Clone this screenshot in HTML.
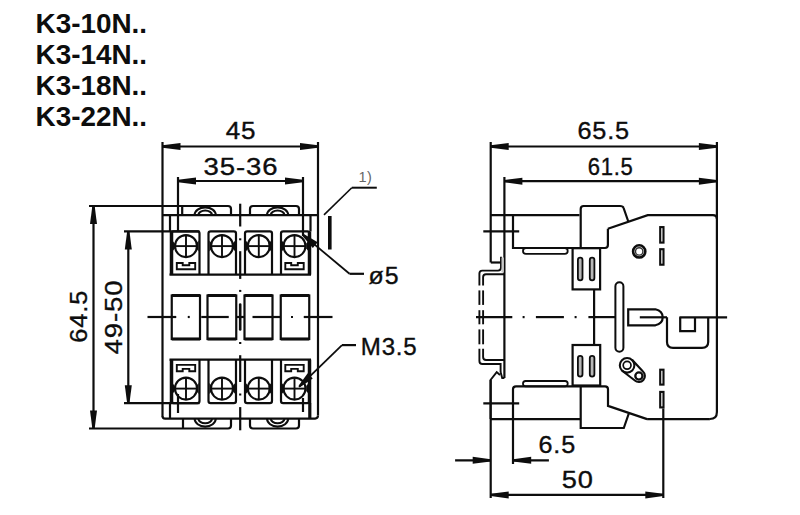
<!DOCTYPE html>
<html><head><meta charset="utf-8"><style>
html,body{margin:0;padding:0;background:#fff;}
body{width:800px;height:515px;overflow:hidden;}
svg{display:block;font-family:"Liberation Sans",sans-serif;}
</style></head><body>
<svg width="800" height="515" viewBox="0 0 800 515">
<text x="0" y="0" font-size="27.90" letter-spacing="0.00" font-weight="bold" fill="#0d0d0d"  transform="translate(35.500 32.900) scale(1.0000 1)">K3-10N..</text>
<text x="0" y="0" font-size="27.90" letter-spacing="0.00" font-weight="bold" fill="#0d0d0d"  transform="translate(35.500 63.850) scale(1.0000 1)">K3-14N..</text>
<text x="0" y="0" font-size="27.90" letter-spacing="0.00" font-weight="bold" fill="#0d0d0d"  transform="translate(35.500 94.800) scale(1.0000 1)">K3-18N..</text>
<text x="0" y="0" font-size="27.90" letter-spacing="0.00" font-weight="bold" fill="#0d0d0d"  transform="translate(35.500 125.750) scale(1.0000 1)">K3-22N..</text>
<text x="0" y="0" font-size="24.00" letter-spacing="0.80" font-weight="normal" fill="#0d0d0d" stroke="#0d0d0d" stroke-width="0.35" transform="translate(225.700 139.400) scale(1.0854 1)">45</text>
<text x="0" y="0" font-size="24.00" letter-spacing="0.80" font-weight="normal" fill="#0d0d0d" stroke="#0d0d0d" stroke-width="0.35" transform="translate(203.500 174.700) scale(1.1458 1)">35-36</text>
<text x="0" y="0" font-size="24.30" letter-spacing="0.80" font-weight="normal" fill="#0d0d0d" stroke="#0d0d0d" stroke-width="0.35" transform="translate(87.000 342.700) rotate(-90) scale(1.0491 1)">64.5</text>
<text x="0" y="0" font-size="24.30" letter-spacing="0.80" font-weight="normal" fill="#0d0d0d" stroke="#0d0d0d" stroke-width="0.35" transform="translate(122.200 354.500) rotate(-90) scale(1.1327 1)">49-50</text>
<text x="0" y="0" font-size="24.00" letter-spacing="0.80" font-weight="normal" fill="#0d0d0d" stroke="#0d0d0d" stroke-width="0.35" transform="translate(368.600 284.100) scale(1.0373 1)">ø5</text>
<text x="0" y="0" font-size="24.00" letter-spacing="0.80" font-weight="normal" fill="#0d0d0d" stroke="#0d0d0d" stroke-width="0.35" transform="translate(360.800 354.900) scale(1.0035 1)">M3.5</text>
<text x="0" y="0" font-size="14.50" letter-spacing="0.50" font-weight="normal" fill="#666"  transform="translate(358.500 182.200) scale(1.0000 1)">1)</text>
<text x="0" y="0" font-size="24.00" letter-spacing="0.80" font-weight="normal" fill="#0d0d0d" stroke="#0d0d0d" stroke-width="0.35" transform="translate(577.400 139.400) scale(1.0538 1)">65.5</text>
<text x="0" y="0" font-size="24.00" letter-spacing="0.80" font-weight="normal" fill="#0d0d0d" stroke="#0d0d0d" stroke-width="0.35" transform="translate(587.700 174.700) scale(0.9183 1)">61.5</text>
<text x="0" y="0" font-size="24.00" letter-spacing="0.80" font-weight="normal" fill="#0d0d0d" stroke="#0d0d0d" stroke-width="0.35" transform="translate(538.500 452.600) scale(1.0498 1)">6.5</text>
<text x="0" y="0" font-size="24.00" letter-spacing="0.80" font-weight="normal" fill="#0d0d0d" stroke="#0d0d0d" stroke-width="0.35" transform="translate(561.800 487.600) scale(1.1326 1)">50</text>
<line x1="162.5" y1="142" x2="162.5" y2="416.4" stroke="#0d0d0d" stroke-width="2.2" stroke-linecap="butt"/>
<line x1="318" y1="142" x2="318" y2="415.6" stroke="#0d0d0d" stroke-width="2.2" stroke-linecap="butt"/>
<path d="M162.5,416 Q162.5,418.6 165.1,418.6" stroke="#0d0d0d" stroke-width="2.2" fill="none" stroke-linejoin="miter"/>
<path d="M318,415.6 Q318,418.6 315,418.6" stroke="#0d0d0d" stroke-width="2.2" fill="none" stroke-linejoin="miter"/>
<line x1="162.5" y1="146.5" x2="318" y2="146.5" stroke="#0d0d0d" stroke-width="2.2" stroke-linecap="butt"/>
<path d="M162.50,147.65 L180.50,150.00 L180.50,143.00 L162.50,145.35 Z" fill="#0d0d0d" stroke="none"/>
<path d="M318.00,145.35 L300.00,143.00 L300.00,150.00 L318.00,147.65 Z" fill="#0d0d0d" stroke="none"/>
<line x1="178" y1="177" x2="178" y2="232" stroke="#0d0d0d" stroke-width="2.2" stroke-linecap="butt"/>
<line x1="303" y1="177" x2="303" y2="236" stroke="#0d0d0d" stroke-width="2.2" stroke-linecap="butt"/>
<line x1="178" y1="394" x2="178" y2="413" stroke="#0d0d0d" stroke-width="2.2" stroke-linecap="butt"/>
<line x1="303" y1="398" x2="303" y2="412" stroke="#0d0d0d" stroke-width="2.2" stroke-linecap="butt"/>
<line x1="178" y1="181" x2="303" y2="181" stroke="#0d0d0d" stroke-width="2.2" stroke-linecap="butt"/>
<path d="M178.00,182.15 L196.00,184.50 L196.00,177.50 L178.00,179.85 Z" fill="#0d0d0d" stroke="none"/>
<path d="M303.00,179.85 L285.00,177.50 L285.00,184.50 L303.00,182.15 Z" fill="#0d0d0d" stroke="none"/>
<line x1="89" y1="206" x2="228" y2="206" stroke="#0d0d0d" stroke-width="2.2" stroke-linecap="butt"/>
<line x1="89" y1="428.5" x2="228" y2="428.5" stroke="#0d0d0d" stroke-width="2.2" stroke-linecap="butt"/>
<line x1="93.5" y1="206" x2="93.5" y2="428.5" stroke="#0d0d0d" stroke-width="2.2" stroke-linecap="butt"/>
<path d="M92.35,206.00 L90.00,224.00 L97.00,224.00 L94.65,206.00 Z" fill="#0d0d0d" stroke="none"/>
<path d="M94.65,428.50 L97.00,410.50 L90.00,410.50 L92.35,428.50 Z" fill="#0d0d0d" stroke="none"/>
<line x1="124" y1="231.4" x2="199.5" y2="231.4" stroke="#0d0d0d" stroke-width="2.2" stroke-linecap="butt"/>
<line x1="124" y1="403.2" x2="199.5" y2="403.2" stroke="#0d0d0d" stroke-width="2.2" stroke-linecap="butt"/>
<line x1="128.3" y1="231.4" x2="128.3" y2="403.2" stroke="#0d0d0d" stroke-width="2.2" stroke-linecap="butt"/>
<path d="M127.15,231.40 L124.80,249.40 L131.80,249.40 L129.45,231.40 Z" fill="#0d0d0d" stroke="none"/>
<path d="M129.45,403.20 L131.80,385.20 L124.80,385.20 L127.15,403.20 Z" fill="#0d0d0d" stroke="none"/>
<line x1="162.5" y1="215.2" x2="318" y2="215.2" stroke="#0d0d0d" stroke-width="2.2" stroke-linecap="butt"/>
<line x1="165.0" y1="418.6" x2="315.1" y2="418.6" stroke="#0d0d0d" stroke-width="2.2" stroke-linecap="butt"/>
<path d="M182.2,215.2 V206 M228,206 Q231,206 231,209 V215.2" stroke="#0d0d0d" stroke-width="2.2" fill="none" stroke-linejoin="miter"/>
<path d="M250,215.2 V209 Q250,206 253,206 H296 Q299,206 299,209 V215.2" stroke="#0d0d0d" stroke-width="2.2" fill="none" stroke-linejoin="miter"/>
<path d="M194.6,215.2 A10.6,7.8 0 0 1 215.79999999999998,215.2" stroke="#0d0d0d" stroke-width="2.1" fill="none" stroke-linejoin="miter"/>
<path d="M198.29999999999998,215.2 A6.9,4.6 0 0 1 212.1,215.2" stroke="#0d0d0d" stroke-width="2.0" fill="none" stroke-linejoin="miter"/>
<path d="M267.0,215.2 A10.6,7.8 0 0 1 288.20000000000005,215.2" stroke="#0d0d0d" stroke-width="2.1" fill="none" stroke-linejoin="miter"/>
<path d="M270.70000000000005,215.2 A6.9,4.6 0 0 1 284.5,215.2" stroke="#0d0d0d" stroke-width="2.0" fill="none" stroke-linejoin="miter"/>
<path d="M183,418.6 V428.5 M228,428.5 Q231,428.5 231,425.5 V418.6" stroke="#0d0d0d" stroke-width="2.2" fill="none" stroke-linejoin="miter"/>
<path d="M250,418.6 V425.5 Q250,428.5 253,428.5 H296 Q299,428.5 299,425.5 V418.6" stroke="#0d0d0d" stroke-width="2.2" fill="none" stroke-linejoin="miter"/>
<path d="M194.6,418.6 A10.6,8.0 0 0 0 215.79999999999998,418.6" stroke="#0d0d0d" stroke-width="2.1" fill="none" stroke-linejoin="miter"/>
<path d="M198.29999999999998,418.6 A6.9,4.6 0 0 0 212.1,418.6" stroke="#0d0d0d" stroke-width="2.0" fill="none" stroke-linejoin="miter"/>
<path d="M267.0,418.6 A10.6,8.0 0 0 0 288.20000000000005,418.6" stroke="#0d0d0d" stroke-width="2.1" fill="none" stroke-linejoin="miter"/>
<path d="M270.70000000000005,418.6 A6.9,4.6 0 0 0 284.5,418.6" stroke="#0d0d0d" stroke-width="2.0" fill="none" stroke-linejoin="miter"/>
<line x1="170" y1="215.2" x2="170" y2="231.4" stroke="#0d0d0d" stroke-width="2.2" stroke-linecap="butt"/>
<line x1="170" y1="403" x2="170" y2="418.6" stroke="#0d0d0d" stroke-width="2.2" stroke-linecap="butt"/>
<line x1="310.5" y1="215.2" x2="310.5" y2="231.4" stroke="#0d0d0d" stroke-width="2.2" stroke-linecap="butt"/>
<line x1="309.8" y1="403" x2="309.8" y2="418.6" stroke="#0d0d0d" stroke-width="3.2" stroke-linecap="butt"/>
<line x1="169.5" y1="274.6" x2="311" y2="274.6" stroke="#0d0d0d" stroke-width="2.2" stroke-linecap="butt"/>
<path d="M171.5,274.6 V233.6 Q171.5,231.4 173.7,231.4 H197.3 Q199.5,231.4 199.5,233.6 V274.6" stroke="#0d0d0d" stroke-width="2.2" fill="none" stroke-linejoin="miter"/>
<path d="M208.5,274.6 V233.6 Q208.5,231.4 210.7,231.4 H233.8 Q236,231.4 236,233.6 V274.6" stroke="#0d0d0d" stroke-width="2.2" fill="none" stroke-linejoin="miter"/>
<path d="M245,274.6 V233.6 Q245,231.4 247.2,231.4 H269.8 Q272,231.4 272,233.6 V274.6" stroke="#0d0d0d" stroke-width="2.2" fill="none" stroke-linejoin="miter"/>
<path d="M281,274.6 V233.6 Q281,231.4 283.2,231.4 H307.3 Q309.5,231.4 309.5,233.6 V274.6" stroke="#0d0d0d" stroke-width="2.2" fill="none" stroke-linejoin="miter"/>
<path d="M171.5,231.4 V274.6" stroke="#0d0d0d" stroke-width="3.5" fill="none" stroke-linejoin="miter"/>
<path d="M309.5,231.4 V274.6" stroke="#0d0d0d" stroke-width="3.5" fill="none" stroke-linejoin="miter"/>
<line x1="169.5" y1="359.6" x2="311" y2="359.6" stroke="#0d0d0d" stroke-width="2.2" stroke-linecap="butt"/>
<path d="M171.5,359.6 V401 Q171.5,403.2 173.7,403.2 H197.3 Q199.5,403.2 199.5,401 V359.6" stroke="#0d0d0d" stroke-width="2.2" fill="none" stroke-linejoin="miter"/>
<path d="M208.5,359.6 V401 Q208.5,403.2 210.7,403.2 H233.8 Q236,403.2 236,401 V359.6" stroke="#0d0d0d" stroke-width="2.2" fill="none" stroke-linejoin="miter"/>
<path d="M245,359.6 V401 Q245,403.2 247.2,403.2 H269.8 Q272,403.2 272,401 V359.6" stroke="#0d0d0d" stroke-width="2.2" fill="none" stroke-linejoin="miter"/>
<path d="M281,359.6 V401 Q281,403.2 283.2,403.2 H307.3 Q309.5,403.2 309.5,401 V359.6" stroke="#0d0d0d" stroke-width="2.2" fill="none" stroke-linejoin="miter"/>
<path d="M171.5,359.6 V403.2" stroke="#0d0d0d" stroke-width="3.5" fill="none" stroke-linejoin="miter"/>
<path d="M309.5,359.6 V403.2" stroke="#0d0d0d" stroke-width="3.5" fill="none" stroke-linejoin="miter"/>
<path d="M172.3,240.6 L174.8,243.6 L174.8,248.6 L172.3,251.6 Z" fill="#0d0d0d"/>
<path d="M198.7,240.6 L196.2,243.6 L196.2,248.6 L198.7,251.6 Z" fill="#0d0d0d"/>
<path d="M172.3,383.1 L174.8,386.1 L174.8,391.1 L172.3,394.1 Z" fill="#0d0d0d"/>
<path d="M198.7,383.1 L196.2,386.1 L196.2,391.1 L198.7,394.1 Z" fill="#0d0d0d"/>
<path d="M209.3,240.6 L211.8,243.6 L211.8,248.6 L209.3,251.6 Z" fill="#0d0d0d"/>
<path d="M235.2,240.6 L232.7,243.6 L232.7,248.6 L235.2,251.6 Z" fill="#0d0d0d"/>
<path d="M209.3,383.1 L211.8,386.1 L211.8,391.1 L209.3,394.1 Z" fill="#0d0d0d"/>
<path d="M235.2,383.1 L232.7,386.1 L232.7,391.1 L235.2,394.1 Z" fill="#0d0d0d"/>
<path d="M245.8,240.6 L248.3,243.6 L248.3,248.6 L245.8,251.6 Z" fill="#0d0d0d"/>
<path d="M271.2,240.6 L268.7,243.6 L268.7,248.6 L271.2,251.6 Z" fill="#0d0d0d"/>
<path d="M245.8,383.1 L248.3,386.1 L248.3,391.1 L245.8,394.1 Z" fill="#0d0d0d"/>
<path d="M271.2,383.1 L268.7,386.1 L268.7,391.1 L271.2,394.1 Z" fill="#0d0d0d"/>
<path d="M281.8,240.6 L284.3,243.6 L284.3,248.6 L281.8,251.6 Z" fill="#0d0d0d"/>
<path d="M308.7,240.6 L306.2,243.6 L306.2,248.6 L308.7,251.6 Z" fill="#0d0d0d"/>
<path d="M281.8,383.1 L284.3,386.1 L284.3,391.1 L281.8,394.1 Z" fill="#0d0d0d"/>
<path d="M308.7,383.1 L306.2,386.1 L306.2,391.1 L308.7,394.1 Z" fill="#0d0d0d"/>
<circle cx="186" cy="246.1" r="11" stroke="#0d0d0d" stroke-width="2.1" fill="none"/>
<line x1="175.5" y1="246.1" x2="196.5" y2="246.1" stroke="#0d0d0d" stroke-width="1.9" stroke-linecap="butt"/>
<line x1="186" y1="235.6" x2="186" y2="256.6" stroke="#0d0d0d" stroke-width="1.9" stroke-linecap="butt"/>
<circle cx="186" cy="388.6" r="11" stroke="#0d0d0d" stroke-width="2.1" fill="none"/>
<line x1="175.5" y1="388.6" x2="196.5" y2="388.6" stroke="#0d0d0d" stroke-width="1.9" stroke-linecap="butt"/>
<line x1="186" y1="378.1" x2="186" y2="399.1" stroke="#0d0d0d" stroke-width="1.9" stroke-linecap="butt"/>
<circle cx="222" cy="246.1" r="11" stroke="#0d0d0d" stroke-width="2.1" fill="none"/>
<line x1="211.5" y1="246.1" x2="232.5" y2="246.1" stroke="#0d0d0d" stroke-width="1.9" stroke-linecap="butt"/>
<line x1="222" y1="235.6" x2="222" y2="256.6" stroke="#0d0d0d" stroke-width="1.9" stroke-linecap="butt"/>
<circle cx="222" cy="388.6" r="11" stroke="#0d0d0d" stroke-width="2.1" fill="none"/>
<line x1="211.5" y1="388.6" x2="232.5" y2="388.6" stroke="#0d0d0d" stroke-width="1.9" stroke-linecap="butt"/>
<line x1="222" y1="378.1" x2="222" y2="399.1" stroke="#0d0d0d" stroke-width="1.9" stroke-linecap="butt"/>
<circle cx="258.8" cy="246.1" r="11" stroke="#0d0d0d" stroke-width="2.1" fill="none"/>
<line x1="248.3" y1="246.1" x2="269.3" y2="246.1" stroke="#0d0d0d" stroke-width="1.9" stroke-linecap="butt"/>
<line x1="258.8" y1="235.6" x2="258.8" y2="256.6" stroke="#0d0d0d" stroke-width="1.9" stroke-linecap="butt"/>
<circle cx="258.8" cy="388.6" r="11" stroke="#0d0d0d" stroke-width="2.1" fill="none"/>
<line x1="248.3" y1="388.6" x2="269.3" y2="388.6" stroke="#0d0d0d" stroke-width="1.9" stroke-linecap="butt"/>
<line x1="258.8" y1="378.1" x2="258.8" y2="399.1" stroke="#0d0d0d" stroke-width="1.9" stroke-linecap="butt"/>
<circle cx="294.5" cy="246.1" r="11" stroke="#0d0d0d" stroke-width="2.1" fill="none"/>
<line x1="284.0" y1="246.1" x2="305.0" y2="246.1" stroke="#0d0d0d" stroke-width="1.9" stroke-linecap="butt"/>
<line x1="294.5" y1="235.6" x2="294.5" y2="256.6" stroke="#0d0d0d" stroke-width="1.9" stroke-linecap="butt"/>
<circle cx="294.5" cy="388.6" r="11" stroke="#0d0d0d" stroke-width="2.1" fill="none"/>
<line x1="284.0" y1="388.6" x2="305.0" y2="388.6" stroke="#0d0d0d" stroke-width="1.9" stroke-linecap="butt"/>
<line x1="294.5" y1="378.1" x2="294.5" y2="399.1" stroke="#0d0d0d" stroke-width="1.9" stroke-linecap="butt"/>
<path d="M176.8,263 H182.7 V265.3 H189.3 V263 H195.2 V269.3 H176.8 Z" stroke="#0d0d0d" stroke-width="1.9" fill="none" stroke-linejoin="miter"/>
<path d="M176.8,371.2 H182.7 V368.9 H189.3 V371.2 H195.2 V364.9 H176.8 Z" stroke="#0d0d0d" stroke-width="1.9" fill="none" stroke-linejoin="miter"/>
<path d="M285.3,263 H291.2 V265.3 H297.8 V263 H303.7 V269.3 H285.3 Z" stroke="#0d0d0d" stroke-width="1.9" fill="none" stroke-linejoin="miter"/>
<path d="M285.3,371.2 H291.2 V368.9 H297.8 V371.2 H303.7 V364.9 H285.3 Z" stroke="#0d0d0d" stroke-width="1.9" fill="none" stroke-linejoin="miter"/>
<rect x="171.75" y="295.5" width="28.25" height="43.5" rx="0" stroke="#0d0d0d" stroke-width="2.2" fill="none"/>
<line x1="171.75" y1="295.5" x2="200" y2="295.5" stroke="#0d0d0d" stroke-width="3" stroke-linecap="butt"/>
<line x1="171.75" y1="339" x2="200" y2="339" stroke="#0d0d0d" stroke-width="3" stroke-linecap="butt"/>
<rect x="207.5" y="295.5" width="28.75" height="43.5" rx="0" stroke="#0d0d0d" stroke-width="2.2" fill="none"/>
<line x1="207.5" y1="295.5" x2="236.25" y2="295.5" stroke="#0d0d0d" stroke-width="3" stroke-linecap="butt"/>
<line x1="207.5" y1="339" x2="236.25" y2="339" stroke="#0d0d0d" stroke-width="3" stroke-linecap="butt"/>
<rect x="244.5" y="295.5" width="28.0" height="43.5" rx="0" stroke="#0d0d0d" stroke-width="2.2" fill="none"/>
<line x1="244.5" y1="295.5" x2="272.5" y2="295.5" stroke="#0d0d0d" stroke-width="3" stroke-linecap="butt"/>
<line x1="244.5" y1="339" x2="272.5" y2="339" stroke="#0d0d0d" stroke-width="3" stroke-linecap="butt"/>
<rect x="280.75" y="295.5" width="28.5" height="43.5" rx="0" stroke="#0d0d0d" stroke-width="2.2" fill="none"/>
<line x1="280.75" y1="295.5" x2="309.25" y2="295.5" stroke="#0d0d0d" stroke-width="3" stroke-linecap="butt"/>
<line x1="280.75" y1="339" x2="309.25" y2="339" stroke="#0d0d0d" stroke-width="3" stroke-linecap="butt"/>
<line x1="240.2" y1="203.7" x2="240.2" y2="226.5" stroke="#0d0d0d" stroke-width="2.2" stroke-linecap="butt"/>
<line x1="240.2" y1="251.2" x2="240.2" y2="278.9" stroke="#0d0d0d" stroke-width="2.2" stroke-linecap="butt"/>
<line x1="240.2" y1="355.2" x2="240.2" y2="382" stroke="#0d0d0d" stroke-width="2.2" stroke-linecap="butt"/>
<line x1="240.2" y1="407.1" x2="240.2" y2="430.3" stroke="#0d0d0d" stroke-width="2.2" stroke-linecap="butt"/>
<line x1="240.2" y1="238.3" x2="240.2" y2="240.3" stroke="#0d0d0d" stroke-width="2.2" stroke-linecap="butt"/>
<line x1="240.2" y1="289.9" x2="240.2" y2="291.9" stroke="#0d0d0d" stroke-width="2.2" stroke-linecap="butt"/>
<line x1="240.2" y1="342" x2="240.2" y2="344" stroke="#0d0d0d" stroke-width="2.2" stroke-linecap="butt"/>
<line x1="240.2" y1="393.5" x2="240.2" y2="395.5" stroke="#0d0d0d" stroke-width="2.2" stroke-linecap="butt"/>
<line x1="240.2" y1="304.5" x2="240.2" y2="329.5" stroke="#0d0d0d" stroke-width="2.6" stroke-linecap="round"/>
<line x1="236" y1="317" x2="244.5" y2="317" stroke="#0d0d0d" stroke-width="2.2" stroke-linecap="butt"/>
<line x1="147.5" y1="317" x2="176.25" y2="317" stroke="#0d0d0d" stroke-width="2.2" stroke-linecap="butt"/>
<line x1="201.25" y1="317" x2="228.75" y2="317" stroke="#0d0d0d" stroke-width="2.2" stroke-linecap="butt"/>
<line x1="252.5" y1="317" x2="280" y2="317" stroke="#0d0d0d" stroke-width="2.2" stroke-linecap="butt"/>
<line x1="303.75" y1="317" x2="332.5" y2="317" stroke="#0d0d0d" stroke-width="2.2" stroke-linecap="butt"/>
<line x1="187.75" y1="317" x2="189.75" y2="317" stroke="#0d0d0d" stroke-width="2.2" stroke-linecap="butt"/>
<line x1="291" y1="317" x2="293" y2="317" stroke="#0d0d0d" stroke-width="2.2" stroke-linecap="butt"/>
<line x1="324" y1="214.9" x2="351.8" y2="187.7" stroke="#0d0d0d" stroke-width="1.6" stroke-linecap="butt"/>
<line x1="351.8" y1="187.7" x2="376.8" y2="187.7" stroke="#0d0d0d" stroke-width="2" stroke-linecap="butt"/>
<rect x="328" y="216" width="3.6" height="33.5" fill="#0d0d0d"/>
<line x1="303.3" y1="235.1" x2="349.5" y2="273.8" stroke="#0d0d0d" stroke-width="1.8" stroke-linecap="butt"/>
<line x1="349.5" y1="273.8" x2="364" y2="273.8" stroke="#0d0d0d" stroke-width="2.2" stroke-linecap="butt"/>
<path d="M302.26,235.68 L312.83,247.99 L317.71,242.16 L303.74,233.92 Z" fill="#0d0d0d" stroke="none"/>
<line x1="299" y1="386.8" x2="342" y2="345.1" stroke="#0d0d0d" stroke-width="1.8" stroke-linecap="butt"/>
<line x1="342" y1="345.1" x2="356" y2="345.1" stroke="#0d0d0d" stroke-width="2.2" stroke-linecap="butt"/>
<path d="M300.30,387.12 L312.75,378.41 L307.73,373.25 L298.70,385.48 Z" fill="#0d0d0d" stroke="none"/>
<line x1="490.7" y1="142" x2="490.7" y2="262.5" stroke="#0d0d0d" stroke-width="2.2" stroke-linecap="butt"/>
<line x1="490.7" y1="380" x2="490.7" y2="498" stroke="#0d0d0d" stroke-width="2.2" stroke-linecap="butt"/>
<line x1="716.9" y1="142" x2="716.9" y2="412" stroke="#0d0d0d" stroke-width="2.2" stroke-linecap="butt"/>
<path d="M716.9,412 Q716.9,419 709.9,419" stroke="#0d0d0d" stroke-width="2.2" fill="none" stroke-linejoin="miter"/>
<line x1="504.4" y1="177" x2="504.4" y2="378" stroke="#0d0d0d" stroke-width="2.2" stroke-linecap="butt"/>
<line x1="490.7" y1="146.5" x2="716.9" y2="146.5" stroke="#0d0d0d" stroke-width="2.2" stroke-linecap="butt"/>
<path d="M490.70,147.65 L508.70,150.00 L508.70,143.00 L490.70,145.35 Z" fill="#0d0d0d" stroke="none"/>
<path d="M716.90,145.35 L698.90,143.00 L698.90,150.00 L716.90,147.65 Z" fill="#0d0d0d" stroke="none"/>
<line x1="504.4" y1="181.2" x2="716.9" y2="181.2" stroke="#0d0d0d" stroke-width="2.2" stroke-linecap="butt"/>
<path d="M504.40,182.35 L522.40,184.70 L522.40,177.70 L504.40,180.05 Z" fill="#0d0d0d" stroke="none"/>
<path d="M716.90,180.05 L698.90,177.70 L698.90,184.70 L716.90,182.35 Z" fill="#0d0d0d" stroke="none"/>
<line x1="490.7" y1="215.2" x2="579.5" y2="215.2" stroke="#0d0d0d" stroke-width="2.2" stroke-linecap="butt"/>
<path d="M607.9,228.8 L647.7,215.2 H712.9 Q716.9,215.2 716.9,219" stroke="#0d0d0d" stroke-width="2.2" fill="none" stroke-linejoin="miter"/>
<path d="M580.7,248 V209 Q580.7,206 583.7,206 H620 Q623,206 623.6,208 L628.3,221.5" stroke="#0d0d0d" stroke-width="2.2" fill="none" stroke-linejoin="miter"/>
<path d="M607.9,228.8 V245 Q607.9,248 604.9,248 H513 Q513,248 513,245 V215.2" stroke="#0d0d0d" stroke-width="2.2" fill="none" stroke-linejoin="miter"/>
<path d="M580.7,386.3 V428 H623.8 L628.8,413.5" stroke="#0d0d0d" stroke-width="2.2" fill="none" stroke-linejoin="miter"/>
<path d="M647.1,419.1 L608,405.9 V389.3 Q608,386.3 605,386.3 H516 Q513,386.3 513,389.3 V464" stroke="#0d0d0d" stroke-width="2.2" fill="none" stroke-linejoin="miter"/>
<line x1="490.7" y1="419.1" x2="580.2" y2="419.1" stroke="#0d0d0d" stroke-width="2.2" stroke-linecap="butt"/>
<line x1="647.1" y1="419.1" x2="709.9" y2="419.1" stroke="#0d0d0d" stroke-width="2.2" stroke-linecap="butt"/>
<line x1="483.3" y1="231.4" x2="519.2" y2="231.4" stroke="#0d0d0d" stroke-width="2.2" stroke-linecap="butt"/>
<line x1="483.3" y1="403.4" x2="519.2" y2="403.4" stroke="#0d0d0d" stroke-width="2.2" stroke-linecap="butt"/>
<rect x="523" y="248" width="44.7" height="5.8" rx="2.9" stroke="#0d0d0d" stroke-width="1.8" fill="none"/>
<rect x="523" y="381" width="44.7" height="5.3" rx="2.6" stroke="#0d0d0d" stroke-width="1.8" fill="none"/>
<path d="M490.8,262.5 H501" stroke="#0d0d0d" stroke-width="2.2" fill="none" stroke-linejoin="miter"/>
<path d="M501,256.7 V267.5 Q501,270.6 498,270.6 H482.3 Q479.4,270.6 479.4,273.6 V285.4" stroke="#0d0d0d" stroke-width="1.9" fill="none" stroke-linejoin="miter"/>
<path d="M504.4,274.2 H486 Q483.1,274.2 483.1,277.2 V285.4" stroke="#0d0d0d" stroke-width="1.9" fill="none" stroke-linejoin="miter"/>
<rect x="501.5" y="257.5" width="2.4" height="15" fill="#c8c8c8"/>
<line x1="479.4" y1="290.4" x2="479.4" y2="304.9" stroke="#0d0d0d" stroke-width="1.9" stroke-linecap="butt"/>
<line x1="483.1" y1="290.4" x2="483.1" y2="304.9" stroke="#0d0d0d" stroke-width="1.9" stroke-linecap="butt"/>
<line x1="479.4" y1="310.2" x2="479.4" y2="324.3" stroke="#0d0d0d" stroke-width="1.9" stroke-linecap="butt"/>
<line x1="483.1" y1="310.2" x2="483.1" y2="324.3" stroke="#0d0d0d" stroke-width="1.9" stroke-linecap="butt"/>
<line x1="479.4" y1="329.4" x2="479.4" y2="344.3" stroke="#0d0d0d" stroke-width="1.9" stroke-linecap="butt"/>
<line x1="483.1" y1="329.4" x2="483.1" y2="344.3" stroke="#0d0d0d" stroke-width="1.9" stroke-linecap="butt"/>
<path d="M479.4,348.7 V361 Q479.4,364 482.4,364 H500.6 V372" stroke="#0d0d0d" stroke-width="1.9" fill="none" stroke-linejoin="miter"/>
<path d="M483.1,348.7 V357 Q483.1,360 486.1,360 H504.4" stroke="#0d0d0d" stroke-width="1.9" fill="none" stroke-linejoin="miter"/>
<path d="M500.6,372 L502.2,378 H504.4" stroke="#0d0d0d" stroke-width="1.9" fill="none" stroke-linejoin="miter"/>
<path d="M490.5,419.1 V380 L496.7,372.1 L500,375" stroke="#0d0d0d" stroke-width="1.9" fill="none" stroke-linejoin="miter"/>
<rect x="572.6" y="248.2" width="27.5" height="41.2" rx="0" stroke="#0d0d0d" stroke-width="2.2" fill="none"/>
<rect x="572.6" y="345" width="27.6" height="40.5" rx="0" stroke="#0d0d0d" stroke-width="2.2" fill="none"/>
<rect x="577.9000000000001" y="257.6" width="4.6" height="22.8" rx="2.3" stroke="#0d0d0d" stroke-width="1.8" fill="#b8b8b8"/>
<rect x="577.9000000000001" y="355.8" width="4.6" height="20.8" rx="2.3" stroke="#0d0d0d" stroke-width="1.8" fill="#b8b8b8"/>
<rect x="589.8000000000001" y="257.6" width="4.6" height="22.8" rx="2.3" stroke="#0d0d0d" stroke-width="1.8" fill="#b8b8b8"/>
<rect x="589.8000000000001" y="355.8" width="4.6" height="20.8" rx="2.3" stroke="#0d0d0d" stroke-width="1.8" fill="#b8b8b8"/>
<line x1="594.1" y1="289.4" x2="594.1" y2="345" stroke="#0d0d0d" stroke-width="2.2" stroke-linecap="butt"/>
<line x1="476" y1="317.1" x2="512.3" y2="317.1" stroke="#0d0d0d" stroke-width="2.2" stroke-linecap="butt"/>
<line x1="535.9" y1="317.1" x2="563.9" y2="317.1" stroke="#0d0d0d" stroke-width="2.2" stroke-linecap="butt"/>
<line x1="588.4" y1="317.1" x2="615.5" y2="317.1" stroke="#0d0d0d" stroke-width="2.2" stroke-linecap="butt"/>
<line x1="522.6" y1="317.1" x2="524.6" y2="317.1" stroke="#0d0d0d" stroke-width="2.2" stroke-linecap="butt"/>
<line x1="574.6" y1="317.1" x2="576.6" y2="317.1" stroke="#0d0d0d" stroke-width="2.2" stroke-linecap="butt"/>
<rect x="615.4" y="282.2" width="8" height="69.6" rx="4" stroke="#0d0d0d" stroke-width="2" fill="none"/>
<path d="M628.2,309.3 H655.4 Q662.7,311 662.7,317.3 Q662.7,323.6 655.4,325.3 H628.2 Z" stroke="#0d0d0d" stroke-width="2.2" fill="none" stroke-linejoin="miter"/>
<line x1="639.8" y1="317.3" x2="667" y2="317.3" stroke="#0d0d0d" stroke-width="2.2" stroke-linecap="butt"/>
<path d="M667,317.3 V342 Q667,347.9 673,347.9 H702 Q708.2,347.9 708.2,342 V317.3" stroke="#0d0d0d" stroke-width="2.2" fill="none" stroke-linejoin="miter"/>
<line x1="679.4" y1="317.3" x2="727.1" y2="317.3" stroke="#0d0d0d" stroke-width="2.2" stroke-linecap="butt"/>
<path d="M680.2,317.3 V331.2 H695 V317.3" stroke="#0d0d0d" stroke-width="2.2" fill="none" stroke-linejoin="miter"/>
<circle cx="639.2" cy="251.4" r="6.1" stroke="#0d0d0d" stroke-width="2.6" fill="none"/>
<circle cx="639.2" cy="251.4" r="3.7" stroke="#333" stroke-width="1.4" fill="none"/>
<circle cx="627.1" cy="365.3" r="7.3" stroke="#0d0d0d" stroke-width="2.1" fill="none"/>
<path d="M632.07,359.82 L642.93,371.55 A6,6 0 0 1 634.87,380.45 L622.13,370.78" stroke="#0d0d0d" stroke-width="2.1" fill="none" stroke-linejoin="miter"/>
<circle cx="627.1" cy="365.3" r="3.9" stroke="#0d0d0d" stroke-width="1.7" fill="none"/>
<circle cx="638.9" cy="376" r="3.6" stroke="#0d0d0d" stroke-width="2.3" fill="none"/>
<rect x="660.2" y="227.1" width="3.3" height="15.5" rx="0" stroke="#0d0d0d" stroke-width="2.1" fill="none"/>
<rect x="660.2" y="249.2" width="3.3" height="15.5" rx="0" stroke="#0d0d0d" stroke-width="2.1" fill="none"/>
<rect x="660.2" y="369.7" width="3.3" height="14.900000000000034" rx="0" stroke="#0d0d0d" stroke-width="2.1" fill="none"/>
<rect x="660.2" y="391.9" width="3.3" height="15.5" rx="0" stroke="#0d0d0d" stroke-width="2.1" fill="none"/>
<line x1="663.3" y1="408.4" x2="663.3" y2="498" stroke="#0d0d0d" stroke-width="2.2" stroke-linecap="butt"/>
<line x1="455.1" y1="460.3" x2="490.7" y2="460.3" stroke="#0d0d0d" stroke-width="2.2" stroke-linecap="butt"/>
<path d="M490.70,459.15 L472.70,456.80 L472.70,463.80 L490.70,461.45 Z" fill="#0d0d0d" stroke="none"/>
<line x1="513.2" y1="460.3" x2="548.9" y2="460.3" stroke="#0d0d0d" stroke-width="2.2" stroke-linecap="butt"/>
<path d="M513.20,461.45 L531.20,463.80 L531.20,456.80 L513.20,459.15 Z" fill="#0d0d0d" stroke="none"/>
<line x1="490.7" y1="494.9" x2="663.3" y2="494.9" stroke="#0d0d0d" stroke-width="2.2" stroke-linecap="butt"/>
<path d="M490.70,496.05 L508.70,498.40 L508.70,491.40 L490.70,493.75 Z" fill="#0d0d0d" stroke="none"/>
<path d="M663.30,493.75 L645.30,491.40 L645.30,498.40 L663.30,496.05 Z" fill="#0d0d0d" stroke="none"/>
</svg>
</body></html>
